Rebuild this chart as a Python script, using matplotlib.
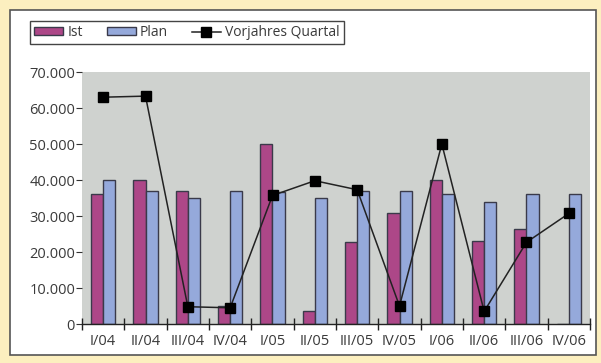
import matplotlib.pyplot as plt
from matplotlib.patches import Rectangle
from matplotlib.ticker import FuncFormatter
import numpy as np

quarters = ['I/04', 'II/04', 'III/04', 'IV/04', 'I/05', 'II/05',
            'III/05', 'IV/05', 'I/06', 'II/06', 'III/06', 'IV/06']
ist = [36000, 40000, 37000, 5000, 50000, 3500,
       22800, 30800, 40000, 23000, 26500, 0]
plan = [40000, 37000, 35000, 37000, 36700, 35000,
        37000, 37000, 36000, 34000, 36000, 36000]
vorjahr = [63000, 63300, 4800, 4500, 35700, 39800,
           37300, 5000, 50000, 3500, 22700, 30700]

plt.rcParams['font.family'] = ['Open Sans', 'DejaVu Sans']

W, H = 601, 363
fig = plt.figure(figsize=(W / 100, H / 100), dpi=100, facecolor='#fcefbf')

# white panel with border
fig.patches.append(Rectangle((10 / W, 1 - 355 / H), 586 / W, 345 / H,
                             transform=fig.transFigure, facecolor='white',
                             edgecolor='#555555', linewidth=1.2, zorder=-5))

ax = fig.add_axes([82 / W, 1 - 324 / H, 508 / W, 252 / H])
ax.set_facecolor('#cfd2cf')

x = np.arange(len(quarters))
bw = 0.29
b1 = ax.bar(x - bw / 2, ist, bw, color='#ad4788', edgecolor='#3a3a4a',
            linewidth=1, label='Ist', zorder=2)
b2 = ax.bar(x + bw / 2, plan, bw, color='#95a9db', edgecolor='#3a3a4a',
            linewidth=1, label='Plan', zorder=2)
ln, = ax.plot(x, vorjahr, color='#222222', linewidth=1.1, marker='s',
              markersize=6.5, markerfacecolor='black', markeredgecolor='black',
              label='Vorjahres Quartal', zorder=3)

ax.set_xlim(-0.5, len(quarters) - 0.5)
ax.set_ylim(0, 70000)
ax.set_yticks(range(0, 70001, 10000))
ax.yaxis.set_major_formatter(FuncFormatter(lambda v, p: f'{int(v):,}'.replace(',', '.')))

ax.set_xticks(x)
ax.set_xticklabels(quarters)
ax.set_xticks(np.arange(-0.5, len(quarters)), minor=True)
ax.tick_params(axis='x', which='major', length=0, pad=7, labelsize=10.5,
               colors='#3a3a3a')
ax.tick_params(axis='x', which='minor', length=8, direction='inout',
               color='#222222', width=1)
ax.tick_params(axis='y', length=4, direction='out', color='#333333',
               labelsize=10.5, labelcolor='#3a3a3a', pad=1)

for s in ['top', 'right', 'left']:
    ax.spines[s].set_visible(False)
ax.spines['bottom'].set_color('#222222')
ax.spines['bottom'].set_linewidth(1)

fig.legend([b1, b2, ln], ['Ist', 'Plan', 'Vorjahres Quartal'],
           loc='upper left', bbox_to_anchor=(30 / W, 1 - 21 / H), ncol=3,
           frameon=True, fancybox=False, edgecolor='#444444', framealpha=1,
           fontsize=10, borderaxespad=0, handlelength=2.1, handleheight=0.5,
           columnspacing=1.7, handletextpad=0.3, borderpad=0.3,
           labelcolor='#3a3a3a')

fig.savefig('out.png', dpi=100, facecolor=fig.get_facecolor())
